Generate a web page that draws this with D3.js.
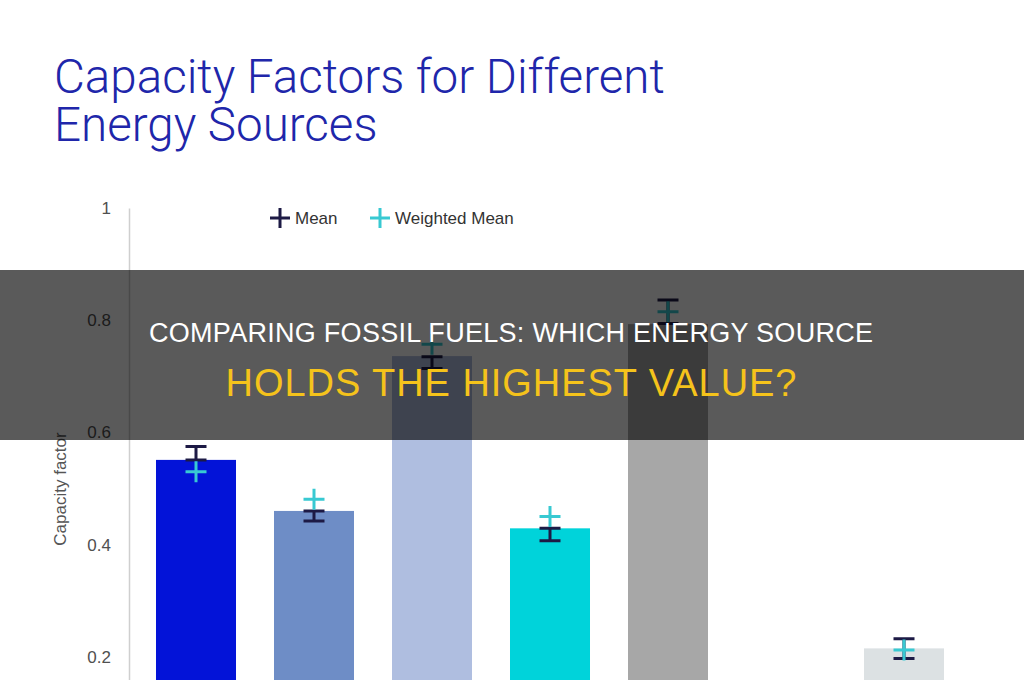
<!DOCTYPE html>
<html>
<head>
<meta charset="utf-8">
<script src="https://cdn.jsdelivr.net/npm/d3@7/dist/d3.min.js"></script>
<style>
  html, body { margin: 0; padding: 0; background: #ffffff; }
  svg { display: block; }
</style>
</head>
<body>
<div id="chart"></div>
<script>
// DATA
// ----------------------------------------
const CATEGORIES = ["Coal", "Natural Gas", "Geothermal", "Wind", "Nuclear", "Hydro", "Solar"];
const BAR_VALUES = [0.551, 0.460, 0.736, 0.429, 0.793, null, 0.215];
const MEAN_LOW = [0.551, 0.442, 0.714, 0.407, 0.794, null, 0.197];
const MEAN_HIGH = [0.575, 0.460, 0.735, 0.429, 0.836, null, 0.232];
const WEIGHTED_MEAN = [0.530, 0.481, 0.757, 0.450, 0.815, null, 0.212];
const Y_TICKS = [0.2, 0.4, 0.6, 0.8, 1];
const LEGEND_ITEMS = ["Mean", "Weighted Mean"];

const TITLE_LINES = ["Capacity Factors for Different", "Energy Sources"];
const BANNER_LINES = ["COMPARING FOSSIL FUELS: WHICH ENERGY SOURCE", "HOLDS THE HIGHEST VALUE?"];
const Y_LABEL = "Capacity factor";

// STYLE
// ----------------------------------------
const BAR_COLORS = ["#0313d8", "#6e8dc6", "#afbee0", "#00d3da", "#a7a7a7", "#c9ced0", "#dce1e3"];
const COLOR_MEAN = "#1d1a45";
const COLOR_WEIGHTED = "#38c9d2";
const COLOR_TITLE = "#2026aa";
const WIDTH = 1024;
const HEIGHT = 680;
const TITLE_WIDTH = 611;

// CHART
// ----------------------------------------
function drawChart() {
    const svg = d3.select("#chart")
        .append("svg")
        .attr("width", WIDTH)
        .attr("height", HEIGHT);

    const x = d3.scaleBand()
        .domain(CATEGORIES)
        .range([137, 963])
        .paddingInner(0.322)
        .paddingOuter(0.161);

    const y = d3.scaleLinear()
        .domain([0, 1])
        .range([769, 208]);

    // Title (font size fitted to the reference line width)
    const title = svg.append("text")
        .style("font-family", "Roboto, 'Liberation Sans', sans-serif")
        .style("font-weight", 300)
        .style("font-size", "50px")
        .attr("fill", COLOR_TITLE);
    title.selectAll("tspan")
        .data(TITLE_LINES)
        .enter().append("tspan")
        .attr("x", 54)
        .attr("y", (d, i) => 93 + i * 48)
        .text(d => d);
    const firstLine = title.select("tspan").node().getComputedTextLength();
    title.style("font-size", (50 * TITLE_WIDTH / firstLine) + "px");

    // Y axis
    const yAxis = d3.axisLeft(y)
        .tickValues(Y_TICKS)
        .tickSize(0)
        .tickSizeOuter(0)
        .tickPadding(18)
        .tickFormat(d => d === 1 ? "1" : d3.format(".1f")(d));

    const axisG = svg.append("g")
        .attr("transform", "translate(129,0)")
        .call(yAxis);
    axisG.select(".domain").attr("stroke", "#cfcfcf").attr("stroke-width", 1.5);
    axisG.selectAll("text")
        .style("font-family", "'Liberation Sans', Arial, sans-serif")
        .style("font-size", "17px")
        .attr("fill", "#505050");

    svg.append("text")
        .attr("transform", "translate(66,489) rotate(-90)")
        .attr("text-anchor", "middle")
        .style("font-family", "'Liberation Sans', Arial, sans-serif")
        .style("font-size", "17px")
        .attr("fill", "#555555")
        .text(Y_LABEL);

    // Legend
    const legend = svg.append("g").attr("transform", "translate(280,218)");
    const legendItem = legend.selectAll("g")
        .data(LEGEND_ITEMS)
        .enter().append("g")
        .attr("transform", (d, i) => `translate(${i * 100},0)`);
    legendItem.append("path")
        .attr("d", "M-10,0H10M0,-10V10")
        .attr("stroke", (d, i) => i === 0 ? COLOR_MEAN : COLOR_WEIGHTED)
        .attr("stroke-width", 3)
        .attr("fill", "none");
    legendItem.append("text")
        .attr("x", 15)
        .attr("y", 6)
        .style("font-family", "'Liberation Sans', Arial, sans-serif")
        .style("font-size", "17px")
        .attr("fill", "#333333")
        .text(d => d);

    // Bars
    const rows = CATEGORIES.map((c, i) => ({
        category: c,
        value: BAR_VALUES[i],
        low: MEAN_LOW[i],
        high: MEAN_HIGH[i],
        weighted: WEIGHTED_MEAN[i],
        color: BAR_COLORS[i]
    })).filter(d => d.value !== null);

    svg.append("g")
        .selectAll("rect")
        .data(rows)
        .enter().append("rect")
        .attr("x", d => x(d.category))
        .attr("y", d => y(d.value))
        .attr("width", x.bandwidth())
        .attr("height", d => y(0) - y(d.value))
        .attr("fill", d => d.color);

    // Mean markers (interval with caps)
    const half = 10.5;
    const markers = svg.append("g")
        .selectAll("g")
        .data(rows)
        .enter().append("g")
        .attr("transform", d => `translate(${x(d.category) + x.bandwidth() / 2},0)`);

    markers.append("path")
        .attr("d", d => `M${-half},${y(d.high)}H${half}M0,${y(d.high)}V${y(d.low)}M${-half},${y(d.low)}H${half}`)
        .attr("stroke", COLOR_MEAN)
        .attr("stroke-width", 3)
        .attr("fill", "none");

    // Weighted mean crosses
    markers.append("path")
        .attr("d", d => `M${-half},${y(d.weighted)}H${half}M0,${y(d.weighted) - half}V${y(d.weighted) + half}`)
        .attr("stroke", COLOR_WEIGHTED)
        .attr("stroke-width", 3)
        .attr("fill", "none");

    // Banner overlay
    svg.append("rect")
        .attr("x", 0)
        .attr("y", 270)
        .attr("width", WIDTH)
        .attr("height", 170)
        .attr("fill", "#000000")
        .attr("fill-opacity", 0.647);

    const bannerSizes = [27, 38];
    const bannerBaselines = [342, 396];
    const bannerWidths = [724, 571];
    const bannerColors = ["#ffffff", "#f5c31b"];
    svg.append("g")
        .selectAll("text")
        .data(BANNER_LINES)
        .enter().append("text")
        .attr("x", 511)
        .attr("y", (d, i) => bannerBaselines[i])
        .attr("text-anchor", "middle")
        .attr("textLength", (d, i) => bannerWidths[i])
        .attr("lengthAdjust", "spacing")
        .style("font-family", "'Liberation Sans', Arial, sans-serif")
        .style("font-size", (d, i) => bannerSizes[i] + "px")
        .attr("fill", (d, i) => bannerColors[i])
        .text(d => d);
}

drawChart();
</script>
</body>
</html>
